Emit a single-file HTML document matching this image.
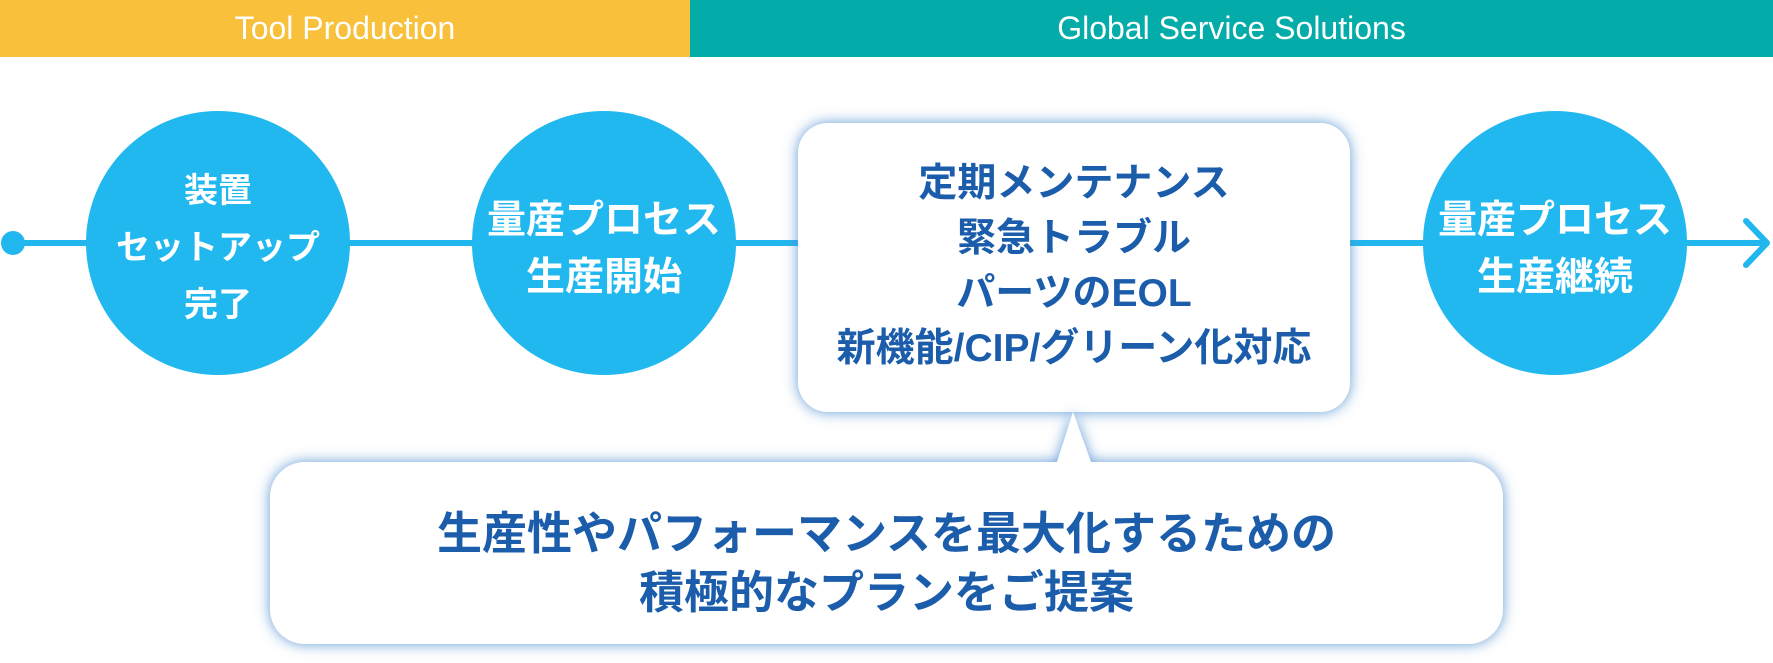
<!DOCTYPE html>
<html><head><meta charset="utf-8"><style>
html,body{margin:0;padding:0;background:#fff;}
body{width:1773px;height:663px;position:relative;overflow:hidden;font-family:"Liberation Sans","Noto Sans CJK JP",sans-serif;}
.hdr{position:absolute;top:0;height:57px;line-height:57px;color:#fff;font-size:32px;text-align:center;}
.t{position:absolute;font-weight:bold;text-align:center;white-space:nowrap;font-family:"Liberation Sans","Noto Sans CJK JP",sans-serif;}
.w{color:#fff;font-size:34px;}
.b{color:#1b5dab;}
</style></head><body>
<div class="hdr" style="left:0;width:690px;background:#f8c03b;">Tool Production</div>
<div class="hdr" style="left:690px;width:1083px;background:#03aca8;">Global Service Solutions</div>
<svg width="1773" height="663" style="position:absolute;left:0;top:0">
<defs><filter id="g" x="-10%" y="-20%" width="120%" height="140%"><feDropShadow dx="0" dy="0" stdDeviation="7" flood-color="#4f8fd0" flood-opacity="0.9"/></filter></defs>
<line x1="13" y1="243" x2="1764" y2="243" stroke="#21b7ee" stroke-width="6"/>
<circle cx="13" cy="243" r="12" fill="#21b7ee"/>
<polyline points="1746,221 1767,243 1746,265" fill="none" stroke="#21b7ee" stroke-width="6" stroke-linecap="round" stroke-linejoin="round"/>
<circle cx="218" cy="243" r="132" fill="#21b8ef"/>
<circle cx="604" cy="243" r="132" fill="#21b8ef"/>
<circle cx="1555" cy="243" r="132" fill="#21b8ef"/>
<rect x="798" y="123" width="552" height="289" rx="30" fill="#fff" filter="url(#g)"/>
<path d="M305,462 H1057 L1073,412 L1091,462 H1468 A35,35 0 0 1 1503,497 V609 A35,35 0 0 1 1468,644 H305 A35,35 0 0 1 270,609 V497 A35,35 0 0 1 305,462 Z" fill="#fff" filter="url(#g)"/>
</svg>
<div class="t w" style="left:68px;width:300px;top:163px;line-height:57px;">装置<br>セットアップ<br>完了</div>
<div class="t w" style="left:454px;width:300px;top:192px;line-height:57px;font-size:39px;">量産プロセス<br>生産開始</div>
<div class="t w" style="left:1405px;width:300px;top:192px;line-height:57px;font-size:39px;">量産プロセス<br>生産継続</div>
<div class="t b" style="left:798px;width:552px;top:156px;font-size:39px;line-height:55px;">定期メンテナンス<br>緊急トラブル<br>パーツのEOL<br>新機能/CIP/グリーン化対応</div>
<div class="t b" style="left:270px;width:1233px;top:504px;font-size:45px;line-height:59px;">生産性やパフォーマンスを最大化するための<br>積極的なプランをご提案</div>
</body></html>
